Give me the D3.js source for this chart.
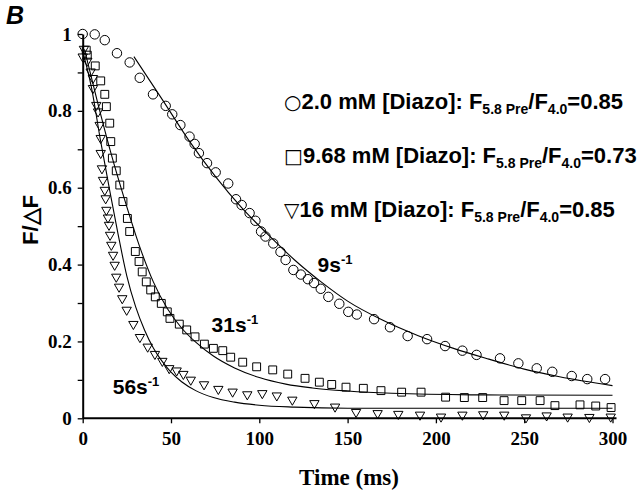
<!DOCTYPE html>
<html>
<head>
<meta charset="utf-8">
<script src="https://cdn.jsdelivr.net/npm/d3@7"></script>
<style>
  body { margin: 0; background: #fff; }
  svg { display: block; }
</style>
</head>
<body>
<script>
// 2.0 mM [Diazo] (circles)
const circT = [0, 6.8, 12.5, 19.4, 26.6, 32.3, 39.8, 47, 50.7, 55.3, 60.5, 63.4, 65.8, 70.4, 75.3, 82.4, 86.8, 90, 94.5, 97.8, 101, 103.5, 107.9, 112, 114.9, 119.3, 123.5, 127.5, 131, 134.8, 139.1, 145.3, 150.4, 155.2, 165, 174, 184, 195, 205.2, 215, 223, 236.3, 246.7, 257.1, 265.9, 276.9, 285.7, 295.8];
const circY = [1.0, 0.999, 0.984, 0.95, 0.926, 0.886, 0.843, 0.813, 0.791, 0.763, 0.733, 0.714, 0.69, 0.664, 0.64, 0.611, 0.57, 0.555, 0.534, 0.514, 0.486, 0.473, 0.455, 0.433, 0.412, 0.386, 0.374, 0.362, 0.352, 0.337, 0.316, 0.298, 0.277, 0.27, 0.258, 0.237, 0.214, 0.206, 0.188, 0.176, 0.165, 0.156, 0.143, 0.13, 0.121, 0.11, 0.102, 0.102];

// 9.68 mM [Diazo] (squares)
const sqT = [2, 2.6, 7.1, 10.2, 12.5, 13.4, 15.3, 15.9, 16.8, 19, 21, 22.8, 25.3, 26.6, 29.8, 31.9, 33.7, 36, 38.5, 41.1, 44.5, 47.9, 49.4, 54.7, 58.9, 63.6, 68.9, 74, 79.3, 83.8, 90.6, 98.5, 107.6, 116.1, 125.9, 134, 141, 149.1, 158.9, 168.9, 180.6, 191.6, 205.5, 216.1, 226.5, 238.6, 248.6, 259, 267.4, 281.6, 290.5, 299.2];
const sqY = [0.958, 0.945, 0.917, 0.878, 0.843, 0.811, 0.768, 0.72, 0.677, 0.644, 0.607, 0.564, 0.52, 0.486, 0.434, 0.408, 0.381, 0.355, 0.334, 0.316, 0.299, 0.277, 0.26, 0.245, 0.23, 0.212, 0.193, 0.182, 0.176, 0.159, 0.146, 0.134, 0.126, 0.115, 0.104, 0.094, 0.088, 0.081, 0.078, 0.072, 0.068, 0.068, 0.055, 0.054, 0.054, 0.046, 0.046, 0.046, 0.033, 0.035, 0.032, 0.028];

// 16 mM [Diazo] (triangles)
const triT = [0, 0.7, 2.6, 4.5, 5.8, 5.8, 7.7, 8.7, 9.6, 10.2, 10.2, 10.9, 11.5, 12.5, 13, 13.4, 14.3, 14.9, 15.5, 16.2, 17.2, 18.1, 19, 20.6, 22.4, 24.9, 28.7, 32.4, 36.8, 40.9, 45.1, 49, 53.2, 57, 61.2, 68.7, 76.8, 84.9, 93.2, 101.7, 109.9, 118.7, 131.2, 142.9, 154.8, 167, 178.7, 191, 202.9, 215, 226.8, 238.7, 251, 262.7, 274.6, 286.9, 299];
const triY = [0.941, 0.961, 0.93, 0.902, 0.885, 0.859, 0.815, 0.798, 0.763, 0.729, 0.69, 0.65, 0.62, 0.594, 0.572, 0.542, 0.522, 0.503, 0.477, 0.451, 0.425, 0.399, 0.368, 0.342, 0.312, 0.282, 0.245, 0.211, 0.186, 0.167, 0.149, 0.13, 0.124, 0.115, 0.10, 0.088, 0.076, 0.069, 0.062, 0.065, 0.059, 0.048, 0.039, 0.03, 0.016, 0.013, 0.011, 0.009, 0.004, 0.009, 0.01, 0.009, 0.002, 0.007, 0.004, 0.003, 0.004];

// fitted curves
const fitCircT = [29, 45, 60, 75, 90, 105, 120, 135, 150, 170, 190, 210, 230, 250, 270, 300];
const fitCircY = [0.941, 0.83, 0.724, 0.63, 0.548, 0.478, 0.412, 0.355, 0.305, 0.255, 0.215, 0.182, 0.154, 0.128, 0.108, 0.085];
const fitSqT = [1, 8, 16, 24, 32, 40, 48, 56, 64, 74, 86, 100, 115, 130, 150, 175, 220, 300];
const fitSqY = [0.96, 0.83, 0.69, 0.565, 0.45, 0.355, 0.285, 0.235, 0.198, 0.162, 0.131, 0.106, 0.089, 0.079, 0.071, 0.065, 0.061, 0.06];
const fitTriT = [0, 5, 10, 15, 20, 25, 30, 35, 40, 45, 50, 56, 64, 74, 86, 100, 120, 150, 300];
const fitTriY = [0.955, 0.86, 0.725, 0.6, 0.48, 0.37, 0.29, 0.23, 0.183, 0.148, 0.12, 0.095, 0.072, 0.054, 0.042, 0.034, 0.029, 0.026, 0.026];

const xTicks = [0, 50, 100, 150, 200, 250, 300];
const yTicks = [0, 0.1, 0.2, 0.3, 0.4, 0.5, 0.6, 0.7, 0.8, 0.9, 1];
const yLabels = ["0", "", "0.2", "", "0.4", "", "0.6", "", "0.8", "", "1"];

const legendSym = ["\u25CB", "\u25A1", "\u25BD"];
const legendConc = ["2.0 mM [Diazo]: F", "9.68 mM [Diazo]: F", "16 mM [Diazo]: F"];
const legendRatio = ["0.85", "0.73", "0.85"];

const rateLabels = ["9", "31", "56"];
const rateAt = [[133, 0.38], [73, 0.225], [17, 0.063]];  // label anchor (ms, F/dF)

const w = 641, h = 497;
const x = d3.scaleLinear().domain([0, 300]).range([82.7, 612.5]);
const y = d3.scaleLinear().domain([0, 1]).range([418.3, 34]);

const svg = d3.select("body").append("svg")
  .attr("width", w).attr("height", h)
  .style("background", "#fff");

const serif = "'Liberation Serif', 'Times New Roman', serif";
const sans = "'Liberation Sans', Arial, sans-serif";

// axes
const xAxis = svg.append("g")
  .attr("transform", `translate(0,${y(0)})`)
  .call(d3.axisBottom(x).tickValues(xTicks).tickSize(5).tickSizeOuter(0).tickPadding(8).tickFormat(d3.format("d")));
const yAxis = svg.append("g")
  .attr("transform", `translate(${x(0)},0)`)
  .call(d3.axisLeft(y).tickValues(yTicks).tickSize(5).tickSizeOuter(0).tickPadding(6)
    .tickFormat((d, i) => yLabels[i]));

[xAxis, yAxis].forEach(g => {
  g.select(".domain").attr("stroke", "#000").attr("stroke-width", 2);
  g.selectAll(".tick line").attr("stroke", "#000").attr("stroke-width", 1.3);
  g.selectAll(".tick text")
    .attr("fill", "#000")
    .style("font-family", serif)
    .style("font-weight", "bold")
    .style("font-size", "19px");
});
xAxis.select(".domain").attr("d", `M${x(0)},0H${x(300) + 4}`);

// fitted lines
const line = d3.line().x(d => x(d[0])).y(d => y(d[1])).curve(d3.curveMonotoneX);
[[fitCircT, fitCircY], [fitSqT, fitSqY], [fitTriT, fitTriY]].forEach(([ts, ys]) => {
  svg.append("path")
    .datum(ts.map((t, i) => [t, ys[i]]))
    .attr("d", line)
    .attr("fill", "none")
    .attr("stroke", "#000")
    .attr("stroke-width", 1.1);
});

// markers
const mark = (ts, ys, type, size, rot) => {
  svg.append("g").selectAll("path")
    .data(ts.map((t, i) => [t, ys[i]]))
    .join("path")
    .attr("d", d3.symbol().type(type).size(size))
    .attr("transform", d => `translate(${x(d[0])},${y(d[1])}) rotate(${rot})`)
    .attr("fill", "none")
    .attr("stroke", "#000")
    .attr("stroke-width", 1);
};
mark(circT, circY, d3.symbolCircle, 70, 0);
mark(sqT, sqY, d3.symbolSquare, 62, 0);
mark(triT, triY, d3.symbolTriangle, 38, 180);

// legend
const leg = svg.append("g");
legendConc.forEach((c, i) => {
  const t = leg.append("text")
    .attr("x", 284).attr("y", 109 + i * 54)
    .style("font-family", sans).style("font-weight", "bold").style("font-size", "22px")
    .attr("fill", "#000");
  t.append("tspan").text(legendSym[i])
    .style("font-family", "'DejaVu Sans', sans-serif").style("font-weight", "normal").style("font-size", "20px");
  t.append("tspan").text(c);
  t.append("tspan").text("5.8 Pre").style("font-size", "14px").attr("dy", 5);
  t.append("tspan").text("/F").attr("dy", -5);
  t.append("tspan").text("4.0").style("font-size", "14px").attr("dy", 5);
  t.append("tspan").text("=" + legendRatio[i]).attr("dy", -5);
});

// rate labels
rateLabels.forEach((r, i) => {
  const t = svg.append("text")
    .attr("x", x(rateAt[i][0])).attr("y", y(rateAt[i][1]))
    .style("font-family", sans).style("font-weight", "bold").style("font-size", "21px")
    .attr("fill", "#000");
  t.append("tspan").text(r + "s");
  t.append("tspan").text("-1").style("font-size", "13px").attr("dy", -8);
});

// axis titles
svg.append("text")
  .attr("x", 349).attr("y", 485)
  .attr("text-anchor", "middle")
  .style("font-family", serif).style("font-weight", "bold").style("font-size", "23px")
  .text("Time (ms)");

svg.append("text")
  .attr("transform", "translate(38,220) rotate(-90)")
  .attr("text-anchor", "middle")
  .style("font-family", sans).style("font-weight", "bold").style("font-size", "22px")
  .text("F/\u25B3F");

svg.append("text")
  .attr("x", 6).attr("y", 24)
  .style("font-family", sans).style("font-weight", "bold").style("font-style", "italic").style("font-size", "25px")
  .text("B");
</script>
</body>
</html>
